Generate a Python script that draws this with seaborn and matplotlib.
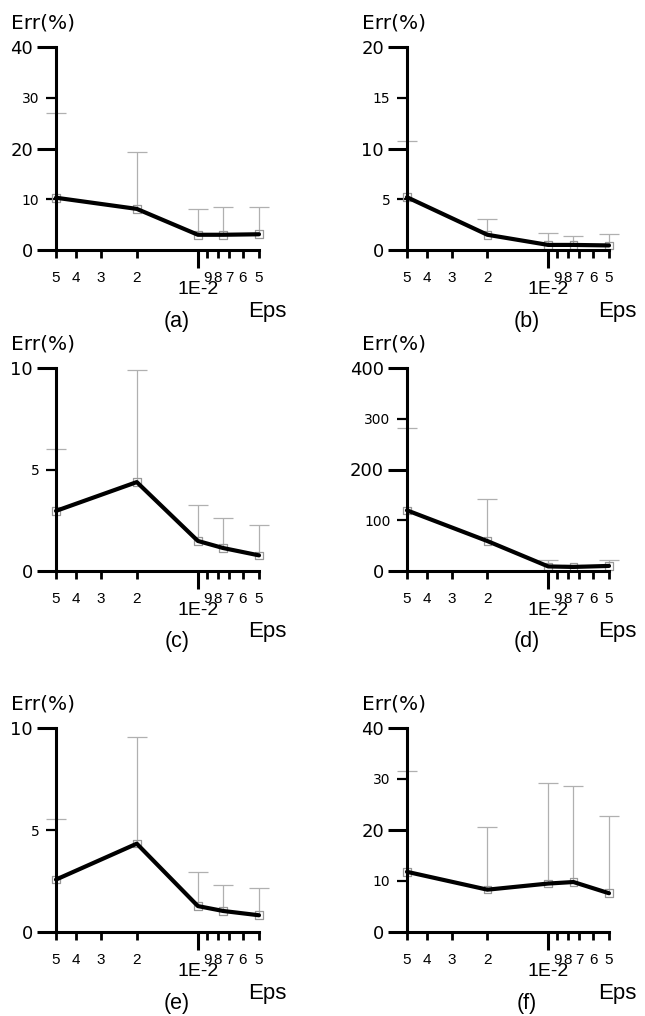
import numpy as np
import pandas as pd
import seaborn as sns
import matplotlib
matplotlib.use("Agg")
import matplotlib.pyplot as plt
from matplotlib.ticker import FixedLocator, FixedFormatter

# ---------------- data ----------------
eps = [0.05, 0.02, 0.01, 0.0075, 0.005]

err_a = [10.3, 8.1, 3.0, 3.0, 3.1]
up_a = [27.0, 19.3, 8.1, 8.5, 8.5]
err_b = [5.2, 1.5, 0.5, 0.5, 0.45]
up_b = [10.7, 3.1, 1.7, 1.35, 1.6]
err_c = [2.96, 4.38, 1.48, 1.13, 0.77]
up_c = [6.03, 9.92, 3.27, 2.61, 2.28]
err_d = [119.5, 59.0, 9.0, 8.0, 10.0]
up_d = [282.0, 141.0, 21.0, 11.0, 21.0]
err_e = [2.57, 4.33, 1.27, 1.03, 0.82]
up_e = [5.56, 9.56, 2.94, 2.29, 2.17]
err_f = [11.8, 8.3, 9.5, 9.8, 7.6]
up_f = [31.6, 20.5, 29.2, 28.7, 22.7]

panel_names = ["(a)", "(b)", "(c)", "(d)", "(e)", "(f)"]
panel_err = [err_a, err_b, err_c, err_d, err_e, err_f]
panel_up = [up_a, up_b, up_c, up_d, up_e, up_f]
panel_ymax = [40, 20, 10, 400, 10, 40]
panel_ymajor = [[0, 20, 40], [0, 10, 20], [0, 10], [0, 200, 400], [0, 10], [0, 20, 40]]
panel_yminor = [[10, 30], [5, 15], [5], [100, 300], [5], [10, 30]]

x_major = [0.01]
x_major_labels = ["1E-2"]
x_minor = [0.05, 0.04, 0.03, 0.02, 0.009, 0.008, 0.007, 0.006, 0.005]
x_minor_labels = ["5", "4", "3", "2", "9", "8", "7", "6", "5"]

# ---------------- layout ----------------
W, H = 645, 1016
sns.set_style("ticks")
plt.rcParams["font.family"] = ["DejaVu Sans"]
plt.rcParams["text.color"] = "black"
plt.rcParams["xtick.color"] = "black"
plt.rcParams["ytick.color"] = "black"
plt.rcParams["axes.labelcolor"] = "black"
fig = plt.figure(figsize=(W / 100, H / 100), dpi=100)

cols = [(56, 259), (407, 609)]
rows = [(47, 250), (368, 571), (728, 932)]


def px_axes(l, r, t, b):
    return [l / W, 1 - b / H, (r - l) / W, (b - t) / H]


for i in range(6):
    r, c = divmod(i, 2)
    l, rr = cols[c]
    t, b = rows[r]
    ax = fig.add_axes(px_axes(l, rr, t, b))
    ax.set_xscale("log")
    vals = np.array(panel_err[i], dtype=float)
    ups = np.array(panel_up[i], dtype=float)
    df = pd.DataFrame({"eps": eps, "err": vals, "up": ups})

    # upper-only error bars
    eb = ax.errorbar(df["eps"], df["err"], yerr=[np.zeros(len(vals)), df["up"] - df["err"]],
                     fmt="none", ecolor="#b0b0b0", elinewidth=0.9, capsize=7,
                     capthick=0.9, clip_on=False, zorder=1)
    for cl in eb[1]:
        if np.allclose(np.asarray(cl.get_ydata(), dtype=float), vals):
            cl.set_visible(False)

    sns.scatterplot(data=df, x="eps", y="err", marker="s", s=30, facecolor="none",
                    edgecolor="#999999", linewidth=0.9, ax=ax, zorder=2, clip_on=False)
    sns.lineplot(data=df, x="eps", y="err", color="black", lw=3, ax=ax,
                 zorder=3, clip_on=False)

    ymax = panel_ymax[i]
    ax.set_xlim(0.05, 0.005)
    ax.set_ylim(0, ymax)
    ax.set_xlabel("")
    ax.set_ylabel("")

    for s in ["top", "right"]:
        ax.spines[s].set_visible(False)
    for s in ["left", "bottom"]:
        ax.spines[s].set_linewidth(2.2)
        ax.spines[s].set_color("black")

    ax.xaxis.set_major_locator(FixedLocator(x_major))
    ax.xaxis.set_major_formatter(FixedFormatter(x_major_labels))
    ax.xaxis.set_minor_locator(FixedLocator(x_minor))
    ax.xaxis.set_minor_formatter(FixedFormatter(x_minor_labels))
    ax.tick_params(axis="x", which="major", bottom=True, direction="out", length=13,
                   width=2.2, pad=9, labelsize=14, labelfontfamily="Liberation Sans",
                   color="black", labelcolor="black")
    ax.tick_params(axis="x", which="minor", bottom=True, direction="out", length=6,
                   width=2.0, pad=9, labelsize=11, labelfontfamily="Liberation Sans",
                   color="black", labelcolor="black")

    y_major = panel_ymajor[i]
    y_minor = panel_yminor[i]
    ax.yaxis.set_major_locator(FixedLocator(y_major))
    ax.yaxis.set_major_formatter(FixedFormatter([f"{v:g}" for v in y_major]))
    ax.yaxis.set_minor_locator(FixedLocator(y_minor))
    ax.yaxis.set_minor_formatter(FixedFormatter([f"{v:g}" for v in y_minor]))
    ax.tick_params(axis="y", which="major", left=True, direction="out", length=13.5,
                   width=2.2, pad=3, labelsize=13, color="black", labelcolor="black")
    ax.tick_params(axis="y", which="minor", left=True, direction="out", length=7,
                   width=1.6, pad=5, labelsize=10, color="black", labelcolor="black")

    ax.annotate("Err(%)", xy=(0, 1), xycoords="axes fraction", xytext=(-45, 24),
                textcoords="offset pixels", ha="left", va="center", fontsize=14.5,
                family="DejaVu Sans", color="black")
    ax.annotate("Eps", xy=(1, 0), xycoords="axes fraction", xytext=(28, -61),
                textcoords="offset pixels", ha="right", va="center", fontsize=16,
                family="Liberation Sans", color="black")
    ax.annotate(panel_names[i], xy=(0.595, 0), xycoords="axes fraction", xytext=(0, -71),
                textcoords="offset pixels", ha="center", va="center", fontsize=15.5,
                family="Liberation Sans", color="black")

fig.savefig("out.png", dpi=100, facecolor="white")
